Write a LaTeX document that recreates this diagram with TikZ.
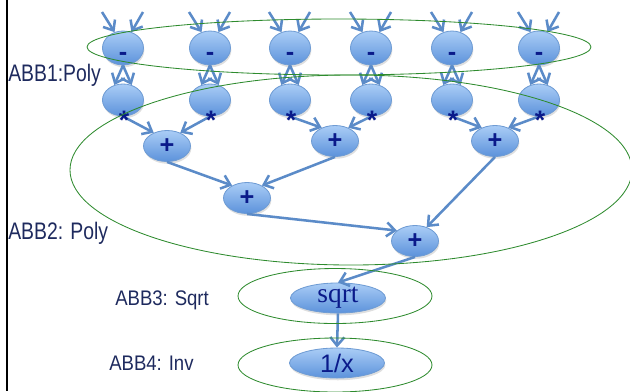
\documentclass[tikz,border=0pt]{standalone}
\usepackage{fontspec}
\setmainfont{Liberation Serif}
\setsansfont{Liberation Sans}
\usepackage{tikz}
\usetikzlibrary{shapes.geometric, arrows.meta, shadows}
\definecolor{abbgreen}{HTML}{2E8B2E}
\definecolor{flowblue}{HTML}{5B8BC8}
\definecolor{optop}{HTML}{AACDF6}
\definecolor{opbottom}{HTML}{5C92DB}
\definecolor{opedge}{HTML}{6F9CD4}
\definecolor{opnavy}{HTML}{0A1A8A}
\definecolor{labnavy}{HTML}{1E2A5E}
\newcommand{\pxu}{0.025cm}
\newcommand{\squeeze}[2]{\scalebox{#1}[1]{#2}}

\begin{document}
\begin{tikzpicture}[x=0.025cm, y=-0.025cm, font=\sffamily]
\useasboundingbox (0,0) rectangle (630,391);

\tikzset{
  op/.style={ellipse, draw=opedge, line width=0.6pt, top color=optop, bottom color=opbottom,
    drop shadow={opacity=0.25, shadow xshift=0.6pt, shadow yshift=-1.6pt},
    inner sep=0pt, text=opnavy, font=\sffamily\bfseries\fontsize{18}{18}\selectfont},
  small op/.style={op, minimum width=41*\pxu, minimum height=32*\pxu},
  add op/.style={op, minimum width=47*\pxu, minimum height=31*\pxu},
  wide op/.style={op, minimum width=95*\pxu, minimum height=30*\pxu},
  mulmark/.style={inner sep=0pt, text=opnavy, font=\sffamily\bfseries\fontsize{19}{19}\selectfont},
  flow/.style={draw=flowblue, line width=1.8pt, -{Straight Barb[length=6pt, width=10pt]}},
  group/.style={ellipse, draw=abbgreen, line width=0.6pt, inner sep=0pt},
  abb/.style={anchor=base west, inner sep=0pt, text=labnavy}
}

% left rule
\draw[line width=1.1pt] (7,0) -- (7,391);

% Subtract and multiply rows
\foreach \i/\x in {1/123, 2/210, 3/290, 4/371, 5/452, 6/539} {
    \node[small op, text height=0.6cm, text depth=0pt] (sub\i) at (\x,48) {-};
    \node[small op] (mul\i) at (\x,100) {};
    \coordinate (inl\i) at (\x-21,12);
    \coordinate (inr\i) at (\x+20,12);
}

% Adder tree
\node[add op] (add1) at (167,146) {+};
\node[add op] (add2) at (335,141) {+};
\node[add op] (add3) at (495,141) {+};
\node[add op] (add4) at (247,198) {+};
\node[add op] (add5) at (415,241) {+};

% Sqrt and inverse
\node[wide op, font=\rmfamily\fontsize{19.5}{19.5}\selectfont] (sqrtop) at (338,298) {sqrt};
\node[wide op, font=\sffamily\fontsize{18}{18}\selectfont] (invop) at (337,363) {1/x};

% Inputs and squaring
\foreach \i in {1,...,6} {
    \draw[flow] (inl\i) -- (sub\i.118);
    \draw[flow] (inr\i) -- (sub\i.62);
    \draw[flow] (sub\i.south) -- (mul\i.120);
    \draw[flow] (sub\i.south) -- (mul\i.60);
}

% Reduction
\foreach \a/\b/\s in {mul1/add1/135, mul2/add1/45, mul3/add2/135, mul4/add2/45,
                      mul5/add3/135, mul6/add3/45, add1/add4/140, add2/add4/40,
                      add4/add5/150, add3/add5/50, add5/sqrtop/north, sqrtop/invop/north} {
    \draw[flow] (\a.south) -- (\b.\s);
}

% Multiply marks
\foreach \i/\x in {1/124, 2/211, 3/291, 4/372, 5/453, 6/540} {
    \node[mulmark] (mark\i) at (\x,120) {*};
}

% -- Groups --
\node[group, minimum width=504*\pxu, minimum height=56*\pxu] (grp1) at (339,47) {};
\node[group, minimum width=562*\pxu, minimum height=190*\pxu] (grp2) at (351,170) {};
\node[group, minimum width=194*\pxu, minimum height=55*\pxu] (grp3) at (335,296) {};
\node[group, minimum width=194*\pxu, minimum height=54*\pxu] (grp4) at (335,365) {};

\node[abb, font=\sffamily\fontsize{17}{17}\selectfont] (lab1) at (8,81.7) {\squeeze{0.81}{ABB1:Poly}};
\node[abb, font=\sffamily\fontsize{17}{17}\selectfont] (lab2) at (8,239) {\squeeze{0.81}{ABB2: Poly}};
\node[abb, font=\sffamily\fontsize{15}{15}\selectfont] (lab3) at (115,305) {\squeeze{0.88}{ABB3: Sqrt}};
\node[abb, font=\sffamily\fontsize{15}{15}\selectfont] (lab4) at (109,370) {\squeeze{0.88}{ABB4: Inv}};

\end{tikzpicture}
\end{document}
